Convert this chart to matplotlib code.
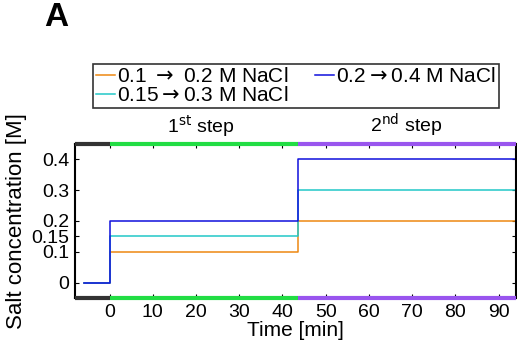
import matplotlib.pyplot as plt

# step profiles: time points [min] and salt concentration [M]
time = [-6, 0, 43.5, 94]
salt_low = [0, 0.1, 0.2, 0.2]
salt_mid = [0, 0.15, 0.3, 0.3]
salt_high = [0, 0.2, 0.4, 0.4]

labels = ["0.1 $\\rightarrow$ 0.2 M NaCl", "0.15$\\rightarrow$0.3 M NaCl",
          "0.2$\\rightarrow$0.4 M NaCl"]
colors = ["#ee8811", "#22c8c8", "#1010dd"]

yticks = [0, 0.1, 0.15, 0.2, 0.3, 0.4]
ytick_labels = ["0", "0.1", "0.15", "0.2", "0.3", "0.4"]
xticks = [0, 10, 20, 30, 40, 50, 60, 70, 80, 90]

# phase bands along the top/bottom axis
phase_edges = [-8, 0, 43.5, 94]
phase_colors = ["#333333", "#22dd44", "#9955ee"]
phase_names = ["1$^{\\mathrm{st}}$ step", "2$^{\\mathrm{nd}}$ step"]
phase_text_x = [21, 68.5]

plt.rcParams['font.family'] = ['Liberation Sans', 'DejaVu Sans']
plt.rcParams['mathtext.fontset'] = 'dejavusans'
plt.rcParams['font.size'] = 15

fig = plt.figure(figsize=(5.17, 3.51), dpi=100)
ax = fig.add_axes([0.145, 0.151, 0.853, 0.439])

lines = []
for y, c, lab in zip([salt_low, salt_mid, salt_high], colors, labels):
    ln, = ax.plot(time, y, drawstyle="steps-post", color=c, lw=1.1, label=lab)
    lines.append(ln)

ylo, yhi = -0.05, 0.45
for i, c in enumerate(phase_colors):
    for yy in (ylo, yhi):
        ax.plot([phase_edges[i], phase_edges[i + 1]], [yy, yy], color=c, lw=3,
                solid_capstyle="butt", clip_on=False, zorder=5)

ax.set_xlim(-8, 94)
ax.set_ylim(ylo, yhi)
ax.set_xticks(xticks)
ax.set_yticks(yticks)
ax.set_yticklabels(ytick_labels)
ax.tick_params(direction="in", top=True, right=True, length=3, labelsize=14, pad=4)
for s in ax.spines.values():
    s.set_linewidth(1.5)
ax.set_xlabel("Time [min]", labelpad=0, fontsize=15)
ax.set_ylabel("Salt concentration [M]", labelpad=3, fontsize=16)

for name, tx in zip(phase_names, phase_text_x):
    ax.text(tx, 0.465, name, ha="center", va="bottom", fontsize=14)

# legend box spans pixels x 93..499, y 62..108 of the reference
leg = fig.legend(handles=lines, labels=labels,
                 ncol=2, loc="lower left", mode="expand",
                 bbox_to_anchor=(93 / 517, 1 - 108 / 351, 406 / 517, 46 / 351),
                 borderaxespad=0, frameon=True, fancybox=False, edgecolor="black",
                 handlelength=0.9, handletextpad=0.1, columnspacing=1.0,
                 borderpad=0.15, labelspacing=0.0, fontsize=15)
leg.get_frame().set_linewidth(1.2)

fig.text(0.085, 0.95, "A", fontsize=24, fontweight="bold", ha="left", va="center")

fig.savefig("out.png", dpi=100)
